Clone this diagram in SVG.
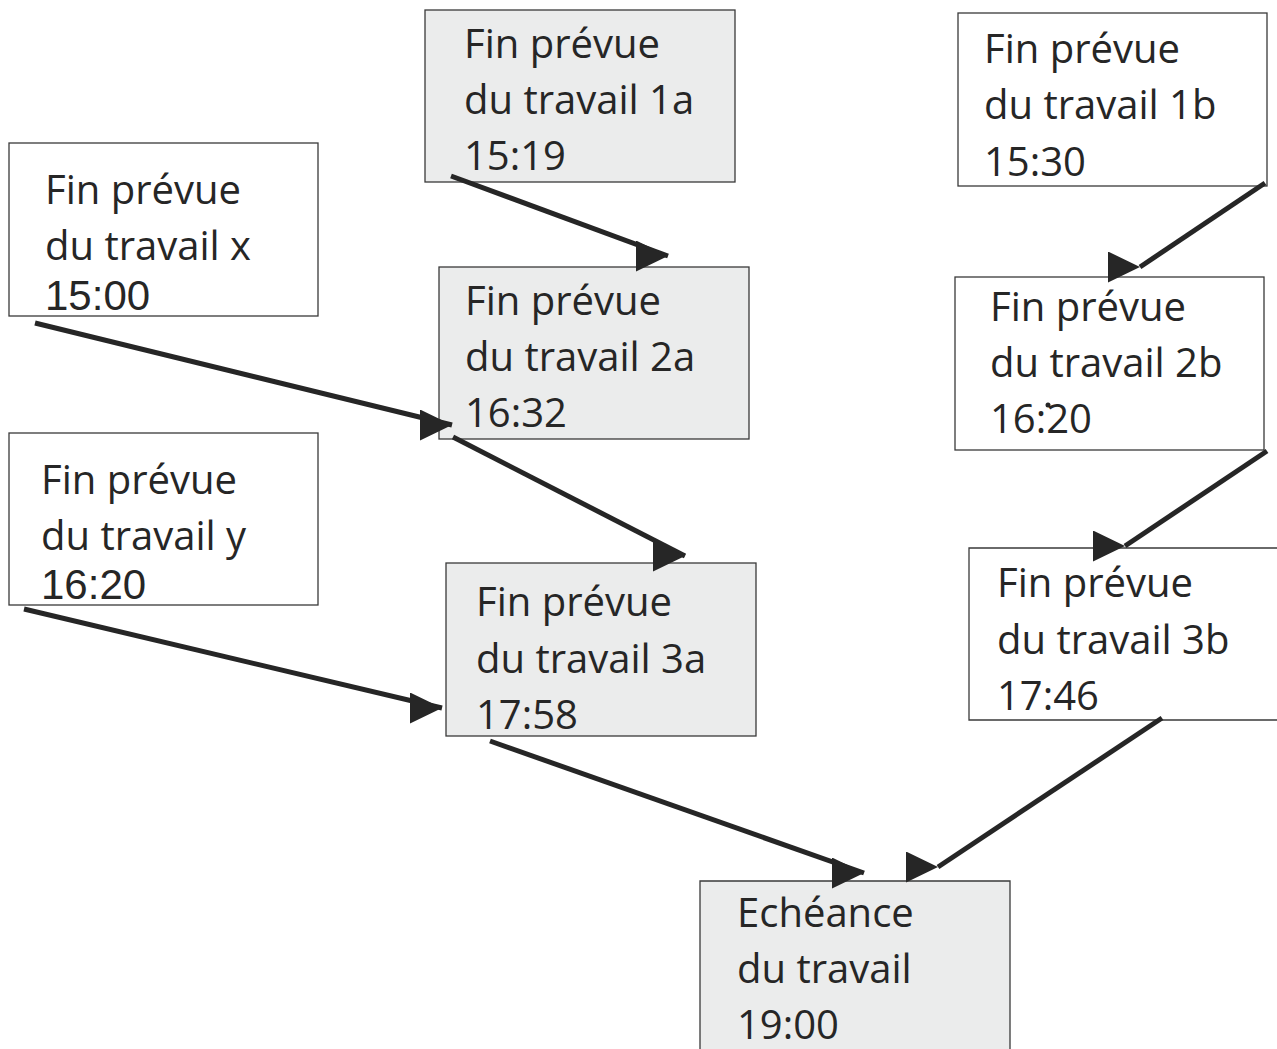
<svg xmlns="http://www.w3.org/2000/svg" width="1277" height="1049" viewBox="0 0 1277 1049">
<style>
.box{stroke:#3a3a3a;stroke-width:1.3}
.g{fill:#ebecec}
.w{fill:#ffffff}
text{font-family:"Open Sans","Noto Sans",sans-serif;font-size:40px;fill:#262626}
.a{font-family:"Liberation Sans",Arial,sans-serif;font-size:42px}
.c line{stroke:#262626;stroke-width:5;marker-end:url(#ah)}
</style>
<defs>
<marker id="ah" markerUnits="userSpaceOnUse" markerWidth="34" markerHeight="32" refX="32" refY="15.5" orient="0" viewBox="0 0 34 32">
<path d="M0,0 L32,15.5 L0,31 z" fill="#262626"/>
</marker>
</defs>
<rect width="1277" height="1049" fill="#ffffff"/>
<g id="n1a"><rect class="box g" x="425" y="10" width="310" height="172"/>
<text x="464" y="58">Fin prévue</text><text x="464" y="114">du travail 1a</text><text x="464" y="170">15:19</text></g>
<g id="nx"><rect class="box w" x="9" y="143" width="309" height="173"/>
<text x="45" y="204">Fin prévue</text><text x="45" y="260">du travail x</text><text class="a" x="45" y="310">15:00</text></g>
<g id="n1b"><rect class="box w" x="958" y="13" width="309" height="173"/>
<text x="984" y="63">Fin prévue</text><text x="984" y="119">du travail 1b</text><text x="984" y="176">15:30</text></g>
<g id="n2a"><rect class="box g" x="439" y="267" width="310" height="172"/>
<text x="465" y="315">Fin prévue</text><text x="465" y="371">du travail 2a</text><text x="465" y="427">16:32</text></g>
<g id="n2b"><rect class="box w" x="955" y="277" width="309" height="173"/>
<text x="990" y="321">Fin prévue</text><text x="990" y="377">du travail 2b</text><text x="990" y="433">16:20</text><circle cx="1048" cy="405" r="2.5" fill="#262626"/></g>
<g id="ny"><rect class="box w" x="9" y="433" width="309" height="172"/>
<text x="41" y="494">Fin prévue</text><text x="41" y="550">du travail y</text><text class="a" x="41" y="599">16:20</text></g>
<g id="n3a"><rect class="box g" x="446" y="563" width="310" height="173"/>
<text x="476" y="616">Fin prévue</text><text x="476" y="673">du travail 3a</text><text x="476" y="729">17:58</text></g>
<g id="n3b"><path class="box w" d="M1277,548 L969,548 L969,720 L1277,720"/>
<text x="997" y="597">Fin prévue</text><text x="997" y="654">du travail 3b</text><text x="997" y="710">17:46</text></g>
<g id="nend"><path class="box g" d="M700,1049 L700,881 L1010,881 L1010,1049"/>
<text x="737" y="927">Echéance</text><text x="737" y="983">du travail</text><text x="737" y="1039">19:00</text></g>
<g class="c" id="connectors">
<line x1="451" y1="176" x2="668" y2="256"/>
<line x1="35" y1="323" x2="452" y2="425"/>
<line x1="453" y1="437" x2="685" y2="556"/>
<line x1="24" y1="609" x2="442" y2="708"/>
<line x1="490" y1="741" x2="864" y2="873"/>
<line x1="1265" y1="183" x2="1140" y2="267"/>
<line x1="1267" y1="451" x2="1125" y2="546"/>
<line x1="1162" y1="718" x2="938" y2="867"/>
</g>
</svg>
